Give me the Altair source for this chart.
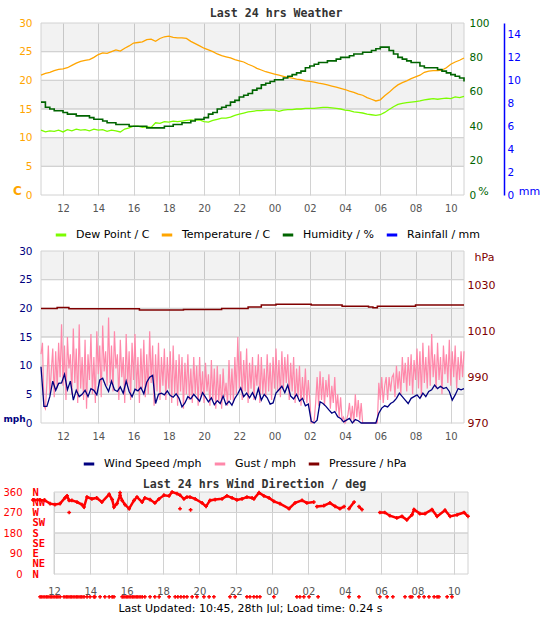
import altair as alt
import pandas as pd

FONT = "DejaVu Sans"
MONO = "DejaVu Sans Mono"
GRID = "#d2d2d2"
ORANGE = "#ffa500"
LIME = "#7cfc00"
HUMID = "#006400"
BLUE = "#0000ff"
NAVY = "#000080"
PINK = "#ff88aa"
MAROON = "#800000"
RED = "#ff0000"

START = "2024-07-27 10:45"
DAY0 = pd.Timestamp("2024-07-27")

# ---------------- 24 h weather log (15 minute samples from 10:45) ----------------
TEMP_C = [
    20.9, 21.2, 21.4, 21.7, 21.9, 22.0, 22.2, 22.6, 23.0, 23.3, 23.5, 23.6,
    24.0, 24.5, 24.8, 24.7, 25.0, 25.3, 25.1, 25.6, 26.0, 26.5, 26.6, 26.7,
    27.1, 27.2, 26.8, 27.3, 27.6, 27.7, 27.5, 27.4, 27.4, 27.3, 26.8, 26.4,
    26.0, 25.6, 25.3, 25.0, 24.6, 24.3, 24.1, 23.9, 23.6, 23.4, 23.2, 22.8,
    22.5, 22.1, 21.8, 21.5, 21.3, 21.1, 20.9, 20.7, 20.5, 20.4, 20.2, 20.1,
    19.9, 19.8, 19.7, 19.5, 19.4, 19.2, 19.0, 18.8, 18.6, 18.4, 18.1, 17.9,
    17.6, 17.4, 17.0, 16.7, 16.4, 16.6, 17.3, 17.9, 18.6, 19.2, 19.6, 19.9,
    20.3, 20.6, 20.9, 21.4, 21.6, 21.7, 21.7, 21.8, 22.2, 22.8, 23.2, 23.5,
    23.9,
]
DEW_C = [
    11.3, 11.0, 11.2, 11.1, 11.3, 11.0, 11.4, 11.2, 11.5, 11.3, 11.4, 11.2,
    11.5, 11.3, 11.4, 11.1, 11.3, 11.2, 11.0, 11.5, 11.7, 12.0, 12.0, 11.8,
    11.9, 11.8, 12.6, 12.5, 12.8, 12.7, 12.9, 12.8, 12.9, 13.0, 13.1, 13.0,
    13.1, 12.8, 12.7, 13.0, 13.2, 13.4, 13.4, 13.6, 13.9, 14.1, 14.3, 14.5,
    14.6, 14.7, 14.7, 14.8, 14.8, 14.8, 14.6, 14.8, 14.9, 14.9, 15.0, 15.0,
    15.1, 15.1, 15.1, 15.2, 15.3, 15.3, 15.2, 15.1, 15.0, 14.8, 14.7, 14.5,
    14.4, 14.3, 14.1, 14.0, 13.9, 14.0, 14.4, 14.9, 15.4, 15.8, 16.0, 16.1,
    16.2, 16.3, 16.4, 16.6, 16.7, 16.8, 16.7, 16.8, 16.9, 16.8, 17.1, 17.0,
    17.2,
]
HUMIDITY = [
    54, 51, 50, 49, 49, 48, 47, 47, 46, 46, 46, 45,
    44, 44, 43, 42, 42, 41, 41, 41, 40, 40, 40, 40,
    39, 39, 39, 39, 40, 40, 41, 41, 42, 42, 43, 44,
    44, 45, 47, 48, 50, 51, 52, 54, 55, 57, 58, 59,
    61, 62, 64, 65, 66, 67, 67, 68, 69, 70, 71, 72,
    74, 75, 76, 77, 77, 78, 78, 79, 80, 80, 81, 82,
    82, 83, 83, 84, 85, 86, 86, 84, 82, 80, 79, 78,
    77, 77, 75, 74, 74, 74, 73, 72, 71, 70, 69, 68,
    66,
]
RAIN_TIMES = ["10:45", "10:45"]
RAIN_MM = [0.0, 0.0]

# ---------------- wind log ----------------
# average speed, 10 minute samples from 10:45
WIND_MPH = [
    9.8, 2.9, 2.9, 4.6, 7.3, 5.7, 6.9, 7.0, 8.5, 5.8, 7.3, 4.0,
    5.7, 4.6, 5.0, 5.7, 4.6, 6.0, 5.7, 4.9, 7.5, 7.8, 6.5, 5.5,
    7.3, 5.8, 5.5, 6.3, 5.2, 7.3, 5.5, 4.6, 5.9, 5.6, 6.2, 5.1,
    7.1, 8.0, 8.3, 3.4, 5.0, 5.2, 4.9, 5.6, 4.8, 4.5, 5.1, 4.3,
    2.8, 3.5, 4.6, 4.2, 5.0, 4.4, 3.8, 5.3, 4.5, 3.7, 4.4, 3.2,
    3.9, 3.4, 4.7, 3.2, 3.8, 3.1, 4.3, 5.1, 6.1, 4.6, 5.2, 4.4,
    5.3, 4.2, 6.0, 4.0, 5.0, 4.4, 3.3, 3.5, 5.2, 5.8, 6.4, 5.3,
    6.6, 4.7, 4.2, 5.0, 3.8, 4.3, 3.0, 3.3, 0.3, 0.0, 0.5, 3.7,
    3.4, 2.9, 2.3, 1.7, 2.0, 1.1, 0.8, 0.2, 0.5, 0.8, 0.0, 0.6,
    0.4, 0.0, 0.0, 0.0, 0.0, 0.0, 0.0, 1.7, 2.6, 3.0, 2.8, 3.4,
    3.7, 4.3, 5.2, 4.6, 4.0, 3.4, 4.3, 4.6, 4.9, 4.3, 5.2, 4.6,
    5.5, 5.8, 6.6, 6.0, 6.4, 6.0, 6.2, 5.5, 4.0, 4.9, 6.0, 5.8,
    6.0,
]
# gusts, 5 minute samples from 10:45
GUST_MPH = [
    12.0, 14.0, 3.0, 2.5, 7.0, 13.5, 5.0, 9.0, 13.0, 4.5, 12.5, 6.0,
    14.0, 8.0, 17.2, 6.5, 13.5, 4.0, 15.0, 9.5, 12.0, 5.0, 16.5, 7.0,
    13.0, 3.5, 17.2, 6.0, 11.5, 4.0, 14.5, 2.5, 12.0, 7.5, 15.5, 5.0,
    11.5, 3.5, 16.0, 8.5, 13.5, 4.5, 17.0, 9.0, 12.5, 6.5, 18.4, 7.0,
    13.5, 5.5, 16.0, 9.5, 12.0, 4.0, 14.5, 8.0, 11.5, 3.5, 15.5, 6.5,
    12.5, 4.0, 14.0, 7.5, 15.5, 5.5, 11.5, 3.5, 13.0, 6.0, 14.5, 4.5,
    12.0, 5.0, 16.0, 7.0, 13.5, 3.0, 12.0, 5.5, 14.0, 4.0, 11.5, 6.5,
    13.0, 4.0, 11.5, 6.0, 12.5, 3.5, 13.5, 5.0, 11.0, 3.0, 12.0, 5.5,
    11.5, 2.5, 10.5, 5.0, 12.0, 4.0, 9.5, 3.5, 11.5, 5.0, 10.0, 3.0,
    11.5, 4.5, 9.0, 3.5, 10.5, 5.5, 8.5, 3.0, 11.0, 4.0, 9.5, 2.5,
    10.0, 3.5, 8.5, 2.5, 9.5, 4.5, 7.0, 3.0, 11.0, 4.0, 9.5, 3.5,
    11.5, 5.0, 15.0, 6.0, 12.5, 4.0, 11.0, 5.5, 13.0, 3.5, 10.5, 6.0,
    11.5, 4.0, 10.0, 6.5, 12.0, 3.5, 11.5, 5.0, 9.5, 4.5, 12.0, 5.5,
    10.5, 4.0, 11.5, 6.0, 13.0, 5.5, 11.0, 4.5, 12.5, 6.0, 11.5, 7.0,
    12.0, 4.0, 10.5, 5.5, 11.5, 3.5, 9.5, 4.5, 10.0, 3.0, 8.0, 4.0,
    9.5, 3.5, 7.5, 4.0, 0.0, 0.0, 0.5, 3.5, 8.0, 3.0, 9.0, 4.0,
    8.0, 3.0, 7.5, 4.5, 8.5, 2.5, 6.5, 3.5, 8.0, 2.0, 5.0, 1.0,
    4.5, 0.5, 1.0, 0.0, 0.5, 1.5, 3.5, 0.5, 3.0, 0.0, 5.0, 1.0,
    4.0, 0.5, 3.5, 0.0, 0.0, 0.0, 0.0, 0.0, 0.0, 0.0, 0.0, 0.0,
    0.0, 0.0, 7.0, 4.0, 8.0, 3.5, 6.5, 8.0, 4.0, 8.0, 5.5, 8.0,
    8.5, 4.5, 10.0, 6.0, 9.0, 5.0, 11.5, 7.0, 10.5, 5.5, 11.5, 6.5,
    12.0, 5.0, 11.0, 7.5, 13.0, 6.0, 12.5, 4.5, 14.0, 7.0, 11.5, 6.0,
    13.5, 6.5, 15.5, 8.0, 12.0, 6.0, 14.0, 7.5, 11.5, 5.0, 13.5, 8.5,
    12.0, 7.0, 14.5, 6.5, 12.5, 8.0, 13.5, 6.0, 11.5, 7.5, 12.5, 8.0,
    12.5,
]
PRESS_TIMES = ["10:45", "11:40", "12:20", "16:20", "18:50", "21:00", "22:30", "23:15",
               "00:05", "02:05", "03:50", "05:20", "05:35", "05:50", "08:00", "10:45"]
PRESS_HPA = [1019.9, 1020.4, 1019.8, 1019.3, 1019.5, 1019.9, 1020.6, 1021.4,
             1021.8, 1021.5, 1020.9, 1020.6, 1020.3, 1020.9, 1021.5, 1021.5]

# wind direction readings; a new trace starts at each DIR_BREAKS time
DIR_TIMES = ["10:50", "11:14", "11:30", "11:47", "12:03", "12:20", "12:36", "12:43", "12:50",
             "12:59", "13:16", "13:32", "13:39", "13:49", "14:05", "14:21", "14:38", "15:02",
             "15:12", "15:18", "15:28", "15:38", "15:45", "15:54", "16:08", "16:24", "16:34",
             "16:51", "17:00", "17:17", "17:33", "17:47", "18:03", "18:20", "18:30", "18:46",
             "18:56", "19:09", "19:19", "19:29", "19:46", "20:09", "20:22", "20:35", "20:52",
             "21:15", "21:31", "21:48", "22:04", "22:21", "22:37", "22:54", "23:00", "23:17",
             "23:33", "23:50", "00:06", "00:26", "00:56", "01:16", "01:39", "01:55", "02:18",
             "02:28", "02:51", "03:11", "03:28", "03:44", "03:58", "04:14", "04:31", "04:47",
             "04:57", "05:56", "06:12", "06:29", "06:52", "07:09", "07:25", "07:42", "07:49",
             "08:08", "08:25", "08:48", "09:05", "09:31", "09:48", "10:11", "10:34", "10:47"]
DIR_DEG = [325, 325, 323, 309, 305, 309, 334, 343, 323,
           323, 316, 305, 294, 338, 330, 334, 316, 350,
           327, 294, 309, 346, 323, 305, 287, 323, 338,
           316, 334, 327, 312, 330, 346, 343, 360, 353,
           346, 330, 338, 338, 330, 312, 297, 323, 327,
           330, 343, 334, 325, 330, 338, 334, 330, 357,
           343, 334, 319, 309, 287, 312, 323, 312, 316,
           296, 300, 312, 297, 287, 296, 287, 316, 296,
           283, 270, 270, 256, 246, 253, 238, 260, 283,
           265, 265, 283, 253, 280, 253, 260, 270, 253]
DIR_BREAKS = ["02:28", "04:14", "04:47", "05:56"]
STRAY_TIMES = ["12:50", "15:38", "18:56", "19:31"]
STRAY_DEG = [270, 357, 287, 282]
# calm readings (no direction) are logged beneath the compass range
CALM_TIMES = ["11:14", "11:20", "11:27", "11:34", "11:40", "11:47", "11:53", "12:00", "12:07",
              "12:13", "12:20", "12:33", "12:40", "12:46", "12:53", "12:59", "13:06", "13:13",
              "13:19", "13:26", "13:32", "13:39", "13:49", "13:59", "14:12", "14:15", "14:32",
              "14:48", "15:02", "15:12", "15:18", "15:45", "15:51", "15:58", "16:04", "16:11",
              "16:18", "16:24", "16:31", "16:37", "16:44", "16:51", "17:00", "17:17", "17:33",
              "17:47", "18:20", "18:40", "18:49", "18:59", "19:09", "19:19", "19:36", "19:52",
              "20:15", "20:32", "20:48", "21:41", "21:58", "22:37", "22:47", "23:00", "23:10",
              "23:20", "00:06", "01:22", "01:32", "01:45", "02:02", "02:32", "04:14", "04:47",
              "05:56", "06:20", "06:39", "07:19", "07:36", "07:42", "08:05", "08:22", "08:38",
              "08:55", "09:05", "09:11", "09:38", "09:54"]
CALM_DEG = -100

HOUR_TICKS = ["12:00", "14:00", "16:00", "18:00", "20:00", "22:00", "00:00",
              "02:00", "04:00", "06:00", "08:00", "10:00"]
TEMP_TICKS = [0, 5, 10, 15, 20, 25, 30]
HUM_TICKS = [0, 20, 40, 60, 80, 100]
RAIN_TICKS = [0, 2, 4, 6, 8, 10, 12, 14]
PRESS_TICKS = [970, 990, 1010, 1030]
DIR_TICKS = [0, 90, 180, 270, 360]
COMPASS = ["N", "NE", "E", "SE", "S", "SW", "W", "NW", "N"]

SER1 = ["Dew Point / C", "Temperature / C", "Humidity / %", "Rainfall / mm"]
COL1 = [LIME, ORANGE, HUMID, BLUE]
SER2 = ["Wind Speed /mph", "Gust / mph", "Pressure / hPa"]
COL2 = [NAVY, PINK, MAROON]
UPDATED = "Last Updated: 10:45, 28th Jul; Load time: 0.24 s"


def clock(times):
    """HH:MM readings to timestamps, rolling over at midnight."""
    out, day, prev = [], 0, None
    for s in times:
        h, m = map(int, s.split(":"))
        mins = h * 60 + m
        if prev is not None and mins < prev:
            day += 1
        prev = mins
        out.append(DAY0 + pd.Timedelta(days=day, minutes=mins))
    return out


def sampled(values, step):
    return pd.date_range(START, periods=len(values), freq=step)


def dt(ts):
    return alt.DateTime(year=ts.year, month=ts.month, date=ts.day, hours=ts.hour,
                        minutes=ts.minute)


TICK_VALUES = [dt(t) for t in clock(HOUR_TICKS)]


def band_frame(ticks, t0, t1):
    step = ticks[1] - ticks[0]
    lo, hi = ticks[:-1], ticks[1:]
    return pd.DataFrame({
        "lo": lo, "hi": hi, "t": [t0] * len(lo), "t2": [t1] * len(lo),
        "shade": [0.05 if (v // step) % 2 else 0.0 for v in lo],
    })


def hour_axis(**kw):
    base = dict(format="%H", values=TICK_VALUES, ticks=False, domain=False, grid=True,
                gridColor=GRID, labelColor="#555555", labelFont=FONT, labelFontSize=10,
                labelPadding=8, labelFlush=False, title=None)
    base.update(kw)
    return alt.Axis(**base)


def yscale(lo, hi):
    return alt.Scale(domain=[lo, hi], nice=False, zero=False)


def legend(x, y, pad, gap):
    return alt.Legend(orient="none", legendX=x, legendY=y, direction="horizontal",
                      title=None, symbolType="stroke", symbolStrokeWidth=3, symbolSize=110,
                      labelFont=FONT, labelFontSize=11, labelColor="#000000", labelOffset=8,
                      gridAlign="none", columnPadding=gap, padding=pad)


def band_layer(df, x, ymax, axis):
    return alt.Chart(df).mark_rect(fill="black", stroke=GRID, strokeWidth=1).encode(
        x=x, x2="t2:T",
        y=alt.Y("lo:Q", scale=yscale(0, ymax), axis=axis), y2="hi:Q",
        fillOpacity=alt.FillOpacity("shade:Q", scale=None),
    )


T_START = pd.Timestamp(START)
T_END = T_START + pd.Timedelta(hours=24)

# ======================= weather panel =======================
x1 = alt.X("t:T", scale=alt.Scale(domain=[dt(T_START), dt(T_END)], nice=False),
           axis=hour_axis(), title=None)

t1 = sampled(TEMP_C, "15min")
tempdew = pd.concat([
    pd.DataFrame({"t": t1, "v": DEW_C, "series": SER1[0]}),
    pd.DataFrame({"t": t1, "v": TEMP_C, "series": SER1[1]}),
], ignore_index=True)
hum = pd.DataFrame({"t": sampled(HUMIDITY, "15min"), "v": HUMIDITY, "series": SER1[2]})
rain = pd.DataFrame({"t": clock(RAIN_TIMES), "v": RAIN_MM, "series": SER1[3]})

color1 = alt.Color("series:N", scale=alt.Scale(domain=SER1, range=COL1),
                   legend=legend(13, 205, 0, 5))

left1 = alt.Axis(orient="left", values=TEMP_TICKS, labelColor=ORANGE, labelFont=FONT,
                 labelFontSize=10.5, labelPadding=9, ticks=False, domain=False,
                 grid=False, title="C", titleColor=ORANGE, titleFont=FONT, titleFontSize=12,
                 titleFontWeight="bold", titleAngle=0, titleX=-24, titleY=167,
                 titleAlign="center", titleBaseline="middle")
bands1 = band_layer(band_frame(TEMP_TICKS, T_START, T_END), x1, 30, left1)

lines_td = alt.Chart(tempdew).mark_line(strokeWidth=1.3).encode(
    x=x1, y=alt.Y("v:Q", scale=yscale(0, 30), axis=None), color=color1)
line_hum = alt.Chart(hum).mark_line(strokeWidth=1.6, interpolate="step-after").encode(
    x=x1,
    y=alt.Y("v:Q", scale=yscale(0, 100),
            axis=alt.Axis(orient="right", values=HUM_TICKS, labelColor=HUMID, labelFont=FONT,
                          labelFontSize=10.5, labelPadding=5, ticks=False,
                          domain=False, grid=False, title="%", titleColor=HUMID, titleFont=FONT,
                          titleFontSize=11, titleFontWeight="normal", titleAngle=0, titleX=19,
                          titleY=168, titleAlign="center", titleBaseline="middle")),
    color=color1)
line_rain = alt.Chart(rain).mark_line(strokeWidth=2).encode(
    x=x1,
    y=alt.Y("v:Q", scale=yscale(0, 15),
            axis=alt.Axis(orient="right", offset=40, values=RAIN_TICKS, labelColor=BLUE,
                          labelFont=FONT, labelFontSize=10.5, labelPadding=3, ticks=False,
                          domain=True, domainColor=BLUE, domainWidth=1.5, grid=False,
                          title="mm", titleColor=BLUE, titleFont=FONT, titleFontSize=11,
                          titleFontWeight="normal", titleAngle=0, titleX=25, titleY=168,
                          titleAlign="center", titleBaseline="middle")),
    color=color1)

weather = alt.layer(bands1, lines_td, line_hum, line_rain).resolve_scale(y="independent").properties(
    width=423, height=172,
    title=alt.TitleParams("Last 24 hrs Weather", font=MONO, fontSize=11.6, fontWeight="bold",
                          color="#333333", frame="bounds", anchor="middle", offset=-2),
)

# ======================= wind panel =======================
x2 = alt.X("t:T", scale=alt.Scale(domain=[dt(T_START), dt(T_END)], nice=False),
           axis=hour_axis(), title=None)
gust = pd.DataFrame({"t": sampled(GUST_MPH, "5min"), "v": GUST_MPH, "series": SER2[1]})
wind = pd.DataFrame({"t": sampled(WIND_MPH, "10min"), "v": WIND_MPH, "series": SER2[0]})
press = pd.DataFrame({"t": clock(PRESS_TIMES), "v": PRESS_HPA, "series": SER2[2]})

color2 = alt.Color("series:N", scale=alt.Scale(domain=SER2, range=COL2),
                   legend=legend(37, 202, 4, 6))

left2 = alt.Axis(orient="left", values=TEMP_TICKS, labelColor=NAVY, labelFont=FONT,
                 labelFontSize=10.5, labelPadding=9, ticks=False, domain=False,
                 grid=False, title="mph", titleColor=NAVY, titleFont=FONT, titleFontSize=9,
                 titleFontWeight="bold", titleAngle=0, titleX=-27, titleY=167,
                 titleAlign="center", titleBaseline="middle")
bands2 = band_layer(band_frame(TEMP_TICKS, T_START, T_END), x2, 30, left2)

line_gust = alt.Chart(gust).mark_line(strokeWidth=1.2).encode(
    x=x2, y=alt.Y("v:Q", scale=yscale(0, 30), axis=None), color=color2)
line_wind = alt.Chart(wind).mark_line(strokeWidth=1.3).encode(
    x=x2, y=alt.Y("v:Q", scale=yscale(0, 30), axis=None), color=color2)
line_press = alt.Chart(press).mark_line(strokeWidth=1.5, interpolate="step-after").encode(
    x=x2,
    y=alt.Y("v:Q", scale=yscale(970, 1045),
            axis=alt.Axis(orient="right", values=PRESS_TICKS, format="d", labelColor=MAROON,
                          labelFont=FONT, labelFontSize=11, labelPadding=3, ticks=False,
                          domain=False, grid=False, title="hPa", titleColor=MAROON,
                          titleFont=FONT, titleFontSize=11, titleFontWeight="normal",
                          titleAngle=0, titleX=20, titleY=6, titleAlign="center",
                          titleBaseline="middle")),
    color=color2)

windchart = alt.layer(bands2, line_gust, line_wind, line_press).resolve_scale(
    y="independent").properties(width=423, height=172)

# ======================= wind direction panel =======================
D3_START = DAY0 + pd.Timedelta(hours=11, minutes=17)
D3_END = DAY0 + pd.Timedelta(hours=34, minutes=47)
x3 = alt.X("t:T", scale=alt.Scale(domain=[dt(D3_START), dt(D3_END)], nice=False),
           axis=hour_axis(labelPadding=12, title=UPDATED, titleFont=FONT, titleFontSize=11,
                          titleFontWeight="normal", titleColor="#000000", titleX=209,
                          titleY=34, titleAlign="center", titleBaseline="middle"))

dir_t = clock(DIR_TIMES)
breaks = [b if b > dir_t[0] else b + pd.Timedelta(days=1) for b in clock(DIR_BREAKS)]
direction = pd.DataFrame({"t": dir_t, "v": DIR_DEG,
                          "seg": [int(sum(t >= b for b in breaks)) for t in dir_t]})
stray = pd.DataFrame({"t": clock(STRAY_TIMES), "v": STRAY_DEG})
calm_t = clock(CALM_TIMES)
calm = pd.DataFrame({"t": calm_t, "v": [CALM_DEG] * len(calm_t)})
crosses = pd.concat([direction[["t", "v"]], stray, calm], ignore_index=True)

compass_expr = " : ".join(
    "datum.value == %d ? '%s'" % (i * 45, name) for i, name in enumerate(COMPASS)
) + " : ''"

num_axis = alt.Axis(orient="left", values=DIR_TICKS, labelColor=RED, labelFont=FONT,
                    labelFontSize=10, labelPadding=19, ticks=False, domain=False,
                    grid=False, labelOverlap=False, title=None)
compass_axis = alt.Axis(orient="left", values=[i * 45 for i in range(len(COMPASS))],
                        labelExpr=compass_expr, labelAlign="left", labelPadding=9,
                        labelColor=RED, labelFont=MONO, labelFontSize=10.5,
                        labelFontWeight="bold", ticks=False, domain=False, grid=False,
                        labelOverlap=False, title=None)

bands3 = band_layer(band_frame(DIR_TICKS, DAY0 + pd.Timedelta(hours=12), D3_END), x3, 360, num_axis)
dir_line = alt.Chart(direction).mark_line(color=RED, strokeWidth=2.5, clip=False).encode(
    x=x3, y=alt.Y("v:Q", scale=yscale(0, 360), axis=compass_axis), detail="seg:N")
dir_pts = alt.Chart(crosses).mark_point(shape="cross", filled=True, size=14, color=RED,
                                        opacity=1, clip=False).encode(
    x=x3, y=alt.Y("v:Q", scale=yscale(0, 360), axis=None))

dirchart = alt.layer(bands3, dir_line, dir_pts).resolve_scale(y="independent").properties(
    width=427, height=82,
    title=alt.TitleParams("Last 24 hrs Wind Direction / deg", font=MONO, fontSize=11.6,
                          fontWeight="bold", color="#333333", frame="group", anchor="middle",
                          offset=-4),
)

chart = alt.vconcat(weather, windchart, dirchart, spacing=5).resolve_scale(
    color="independent", x="independent"
).properties(
    padding={"left": 2, "top": 8, "right": 0, "bottom": 0}, background="white"
).configure_view(strokeWidth=0)

chart.save("out.html", embed_options={"renderer": "svg", "actions": False})
